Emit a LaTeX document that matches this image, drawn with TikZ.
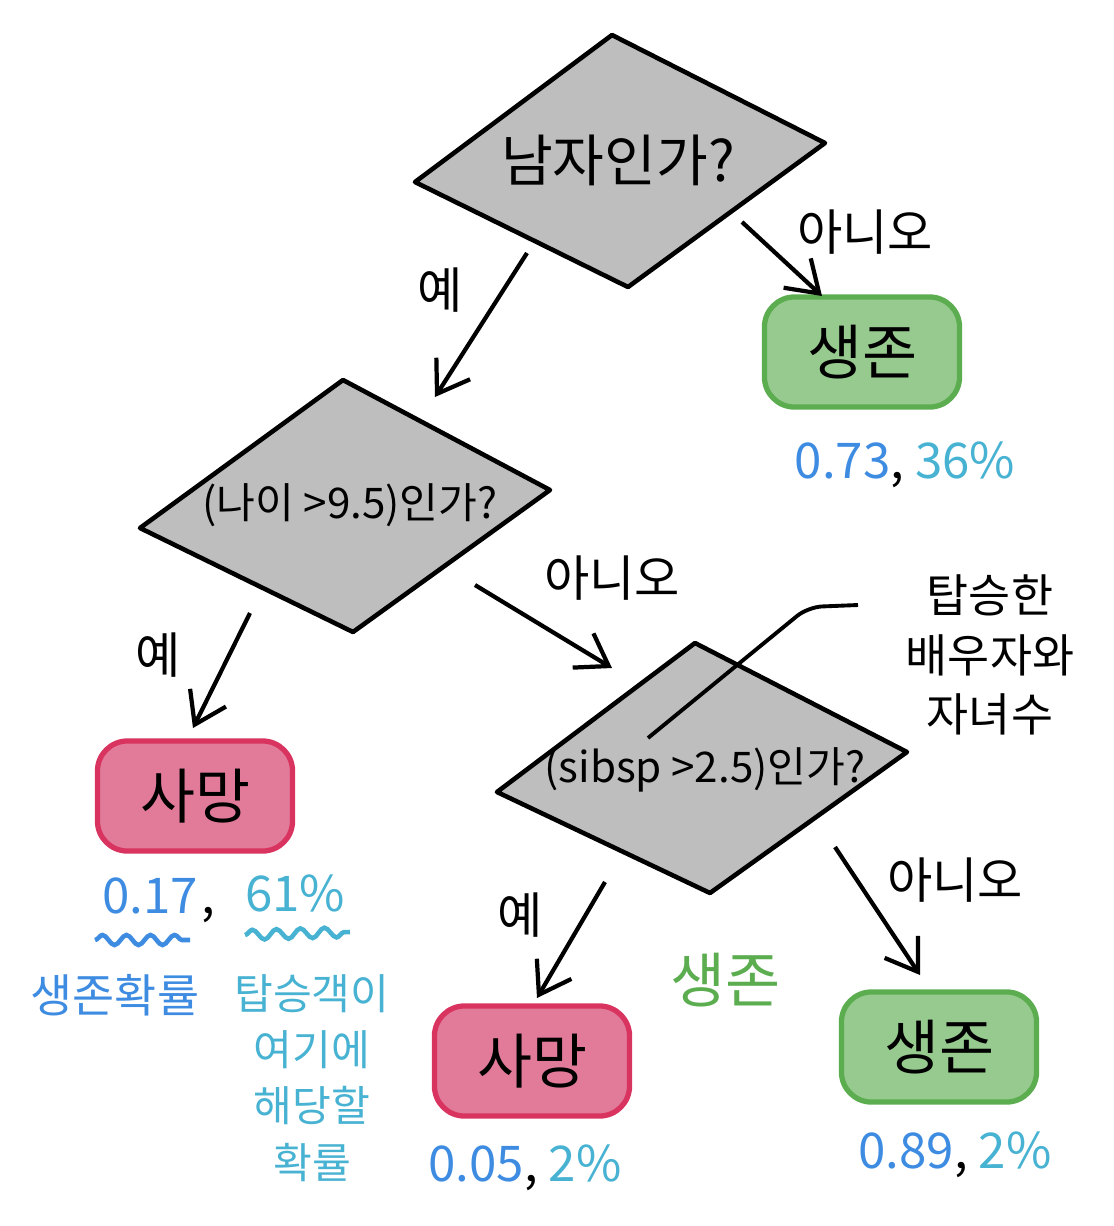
\documentclass[tikz,border=0pt]{standalone}
\usepackage{fontspec}
\setmainfont{Noto Sans CJK KR}
\usetikzlibrary{arrows.meta,decorations.pathmorphing}
\definecolor{qgray}{HTML}{BEBEBE}
\definecolor{livefill}{HTML}{96CA8E}
\definecolor{liveline}{HTML}{5BAD50}
\definecolor{deadfill}{HTML}{E27A9A}
\definecolor{deadline}{HTML}{D8345F}
\definecolor{probblue}{HTML}{3E8CE2}
\definecolor{shareteal}{HTML}{48B2D2}
\tikzset{
  question/.style={draw=black, line width=1.3pt, fill=qgray, line join=round},
  qtext/.style={font=\fontsize{#1}{#1}\selectfont},
  leaf/.style={minimum width=1.95cm, minimum height=1.1cm, rounded corners=0.3cm,
    line width=1.5pt, font=\fontsize{17}{17}\selectfont},
  live/.style={leaf, draw=liveline, fill=livefill},
  dead/.style={leaf, draw=deadline, fill=deadfill},
  branch/.style={line width=1.2pt, -{Straight Barb[length=3mm,width=4mm]}},
  answer/.style={font=\fontsize{14}{14}\selectfont},
  prob/.style={font=\fontsize{14}{14}\selectfont},
  wave/.style={line width=1.3pt, decorate,
    decoration={snake, amplitude=0.5mm, segment length=2.4mm}}
}
\begin{document}
\begin{tikzpicture}[x=0.01cm,y=-0.01cm]
  \useasboundingbox (0,0) rectangle (1114,1226);

  % questions
  \draw[question] (612,35) -- (825,143) -- (628,287) -- (415,182) -- cycle;
  \node[qtext=16] (male) at (618,160) {남자인가?};
  \draw[question] (343,380) -- (550,490) -- (353,632) -- (140,528) -- cycle;
  \node[qtext=12] (age) at (350,505) {(나이 >9.5)인가?};
  \draw[question] (695,643) -- (907,752) -- (710,893) -- (497,792) -- cycle;
  \node[qtext=12] (sibsp) at (705,770) {(sibsp >2.5)인가?};

  % leaves
  \node[live] (live1) at (862,352) {생존};
  \node[dead] (dead1) at (195,796) {사망};
  \node[dead] (dead2) at (532,1061) {사망};
  \node[live] (live2) at (939,1047) {생존};

  % branches
  \coordinate (m1) at (527,253);  \coordinate (m2) at (742,222);
  \coordinate (a1) at (250,613);  \coordinate (a2) at (475,585);
  \coordinate (s1) at (605,882);  \coordinate (s2) at (835,847);
  \coordinate (age top) at (435,397);
  \coordinate (live1 top) at (822,296);
  \coordinate (dead1 top) at (193,728);
  \coordinate (sibsp top) at (612,668);
  \coordinate (dead2 top) at (537,998);
  \coordinate (live2 top) at (920,975);
  \draw[branch] (m1) -- (age top);
  \draw[branch] (m2) -- (live1 top);
  \draw[branch] (a1) -- (dead1 top);
  \draw[branch] (a2) -- (sibsp top);
  \draw[branch] (s1) -- (dead2 top);
  \draw[branch] (s2) -- (live2 top);

  \node[answer] (yes1) at (440,290) {예};
  \node[answer] (no1) at (865,232) {아니오};
  \node[answer] (yes2) at (158,655) {예};
  \node[answer] (no2) at (612,578) {아니오};
  \node[answer] (yes3) at (520,915) {예};
  \node[answer] (no3) at (955,880) {아니오};

  % note on sibsp
  \node[font=\fontsize{13}{17}\selectfont, align=center] (note) at (990,655)
    {탑승한\\배우자와\\자녀수};
  \coordinate (note end) at (858,605);
  \coordinate (note start) at (648,738);
  \draw[line width=1.1pt, rounded corners=4pt]
    (note start) -- (808,607) -- (note end);

  % probabilities
  \node[prob] (p1) at (905,465)
    {{\color{probblue}0.73}, {\color{shareteal}36\%}};
  \node[prob, anchor=base] (p2a) at (150,913) {\color{probblue}0.17};
  \node[prob, anchor=base] (p2c) at (208,913) {,};
  \node[prob, anchor=base] (p2b) at (295,911) {\color{shareteal}61\%};
  \node[prob] (p3) at (525,1168)
    {{\color{probblue}0.05}, {\color{shareteal}2\%}};
  \node[prob] (p4) at (955,1155)
    {{\color{probblue}0.89}, {\color{shareteal}2\%}};

  \coordinate (w1a) at (95,940);  \coordinate (w1b) at (190,940);
  \coordinate (w2a) at (245,935); \coordinate (w2b) at (350,932);
  \draw[wave, probblue] (w1a) -- (w1b);
  \draw[wave, shareteal] (w2a) -- (w2b);

  \node[font=\fontsize{13}{13}\selectfont, text=probblue] (survlabel) at (115,995) {생존확률};
  \node[font=\fontsize{12}{16}\selectfont, text=shareteal, align=center] (sharelabel)
    at (312,1078) {탑승객이\\여기에\\해당할\\확률};
  \node[font=\fontsize{17}{17}\selectfont, text=liveline] (survhint) at (725,980) {생존};
\end{tikzpicture}
\end{document}
